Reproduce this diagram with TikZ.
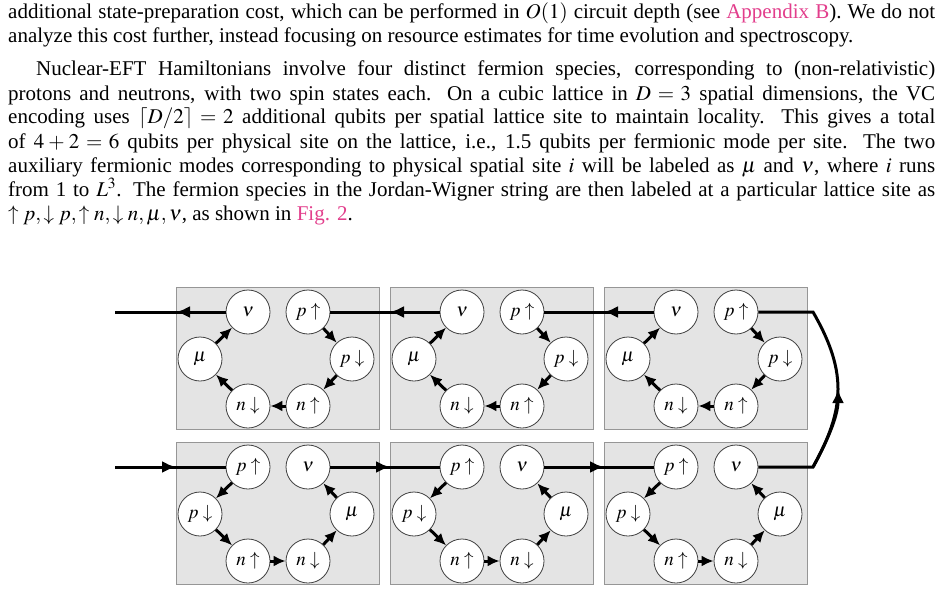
\documentclass[tikz,border=0pt]{standalone}
\usepackage{mathptmx}
\usepackage{fontspec}
\setmainfont{Liberation Serif}
\usetikzlibrary{arrows.meta}
\definecolor{linkc}{RGB}{226,62,140}
\definecolor{boxfill}{RGB}{228,228,228}
\definecolor{boxline}{RGB}{150,150,150}
\newcommand{\lnk}[1]{\textcolor{linkc}{#1}}
\newcommand{\jl}[2]{\hbox to #1pt{#2}}
\begin{document}
\begin{tikzpicture}[x=1pt,y=-1pt,
  txt/.style={anchor=base west,inner sep=0pt,font=\fontsize{21}{24}\selectfont},
  site/.style={circle,draw=black!75,line width=0.8pt,fill=white,minimum size=44pt,inner sep=0pt,font=\fontsize{19}{20}\selectfont},
  cell/.style={draw=boxline,line width=0.8pt,fill=boxfill,minimum width=203pt,minimum height=142pt,inner sep=0pt,anchor=north west},
  arr/.style={line width=3pt,-{Latex[length=12pt,width=11pt]}},
  wire/.style={line width=3pt},
  tip/.style={-{Latex[length=14pt,width=12pt]}}]
\useasboundingbox (0,0) rectangle (949,591);
\node[txt] (t1) at (8,19) {\jl{927}{additional state-preparation cost, which can be performed in $O(1)$ circuit depth (see \lnk{Appendix B}). We do not}};
\node[txt] (t2) at (8,43) {analyze this cost further, instead focusing on resource estimates for time evolution and spectroscopy.};
\node[txt] (t3) at (36,76) {\jl{899}{Nuclear-EFT Hamiltonians involve four distinct fermion species, corresponding to (non-relativistic)}};
\node[txt] (t4) at (8,100) {\jl{927}{protons and neutrons, with two spin states each. On a cubic lattice in $D = 3$ spatial dimensions, the VC}};
\node[txt] (t5) at (8,124) {\jl{927}{encoding uses $\lceil D/2\rceil = 2$ additional qubits per spatial lattice site to maintain locality. This gives a total}};
\node[txt] (t6) at (8,148) {\jl{927}{of $4+2=6$ qubits per physical site on the lattice, i.e., 1.5 qubits per fermionic mode per site. The two}};
\node[txt] (t7) at (8,172) {\jl{927}{auxiliary fermionic modes corresponding to physical spatial site $i$ will be labeled as $\mu$ and $\nu$, where $i$ runs}};
\node[txt] (t8) at (8,196) {\jl{927}{from 1 to $L^3$. The fermion species in the Jordan-Wigner string are then labeled at a particular lattice site as}};
\node[txt] (t9) at (8,220) {$\uparrow p, \downarrow p, \uparrow n, \downarrow n, \mu, \nu$, as shown in \lnk{Fig. 2}.};

\foreach \k/\x in {1/176,2/390,3/604}{
  \node[cell] (T\k) at (\x,287) {};
  \node[site] (Tnu\k) at (\x+72,312) {$\nu$};
  \node[site] (Tpu\k) at (\x+132,312) {$p\uparrow$};
  \node[site] (Tmu\k) at (\x+24,359) {$\mu$};
  \node[site] (Tpd\k) at (\x+176,359) {$p\downarrow$};
  \node[site] (Tnd\k) at (\x+72,406) {$n\downarrow$};
  \node[site] (Tnu2\k) at (\x+132,406) {$n\uparrow$};
  \draw[arr] (Tpu\k) -- (Tpd\k);
  \draw[arr] (Tpd\k) -- (Tnu2\k);
  \draw[arr] (Tnu2\k) -- (Tnd\k);
  \draw[arr] (Tnd\k) -- (Tmu\k);
  \draw[arr] (Tmu\k) -- (Tnu\k);
  \node[cell] (B\k) at (\x,442) {};
  \node[site] (Bpu\k) at (\x+72,467) {$p\uparrow$};
  \node[site] (Bnu\k) at (\x+132,467) {$\nu$};
  \node[site] (Bpd\k) at (\x+24,514) {$p\downarrow$};
  \node[site] (Bmu\k) at (\x+176,514) {$\mu$};
  \node[site] (Bnup\k) at (\x+72,561) {$n\uparrow$};
  \node[site] (Bnd\k) at (\x+132,561) {$n\downarrow$};
  \draw[arr] (Bpu\k) -- (Bpd\k);
  \draw[arr] (Bpd\k) -- (Bnup\k);
  \draw[arr] (Bnup\k) -- (Bnd\k);
  \draw[arr] (Bnd\k) -- (Bmu\k);
  \draw[arr] (Bmu\k) -- (Bnu\k);
}
\coordinate (Tin) at (115,312);
\coordinate (Bin) at (115,467);
\draw[wire] (Tnu1.west) -- (Tin);
\draw[wire,tip] (Tnu1.west) -- (T1.west |- Tnu1);
\draw[wire] (Tnu2.west) -- (Tpu1.east);
\draw[wire,tip] (Tnu2.west) -- (T2.west |- Tnu2);
\draw[wire] (Tnu3.west) -- (Tpu2.east);
\draw[wire,tip] (Tnu3.west) -- (T3.west |- Tnu3);
\draw[wire] (Bin) -- (Bpu1.west);
\draw[wire,tip] (Bin) -- (B1.west |- Bpu1);
\draw[wire] (Bnu1.east) -- (Bpu2.west);
\draw[wire,tip] (Bnu1.east) -- (B2.west |- Bpu2);
\draw[wire] (Bnu2.east) -- (Bpu3.west);
\draw[wire,tip] (Bnu2.east) -- (B3.west |- Bpu3);
\coordinate (Rb) at (813,467);
\coordinate (Rt) at (813,312);
\coordinate (Rm) at (838,389);
\draw[wire] (Bnu3.east) -- (Rb) .. controls (828,440) and (838,415) .. (Rm) .. controls (838,363) and (828,338) .. (Rt) -- (Tpu3.east);
\draw[wire,tip] (Rb) .. controls (828,440) and (838,415) .. (Rm);
\end{tikzpicture}
\end{document}
